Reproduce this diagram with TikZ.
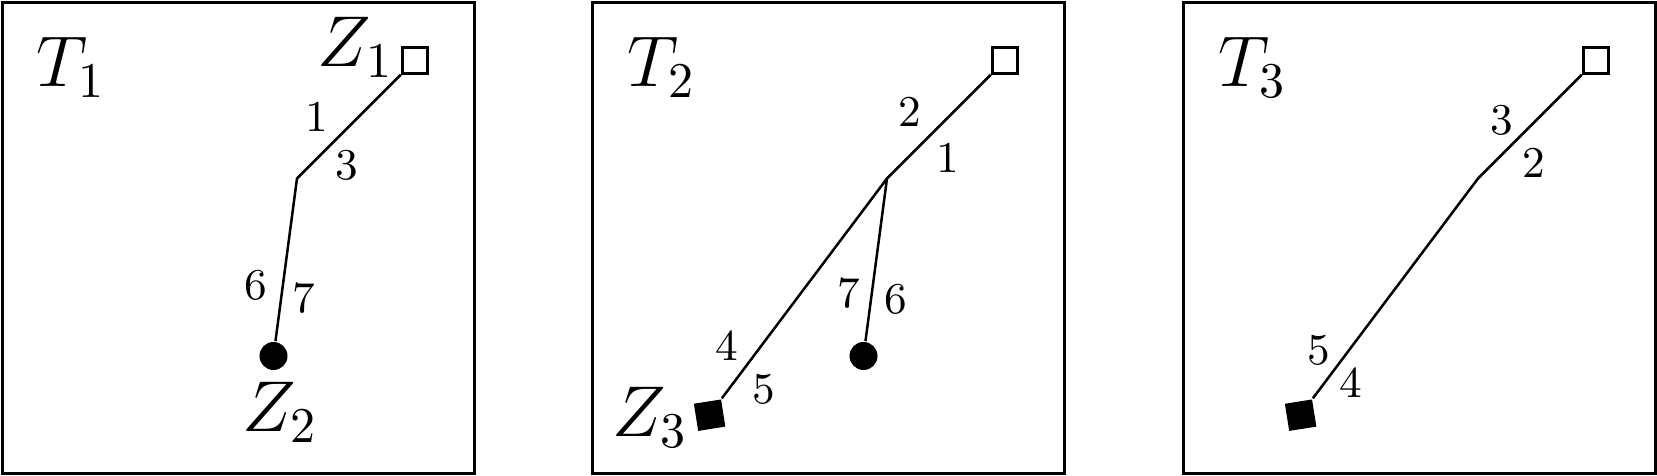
\documentclass[tikz,border=0pt]{standalone}
\begin{document}
\begin{tikzpicture}[x=0.2pt,y=-0.2pt,
  frame/.style={line width=0.6pt},
  edge/.style={line width=0.5pt},
  osq/.style={draw, line width=0.6pt, minimum size=5.1pt, inner sep=0pt, fill=white},
  dot/.style={circle, fill=black, minimum size=5.6pt, inner sep=0pt},
  fsq/.style={fill=black, minimum size=5.5pt, inner sep=0pt, rotate=9},
  big/.style={font=\fontsize{14.4}{16}\selectfont, inner sep=0pt, anchor=base west},
  num/.style={font=\fontsize{8.8}{10}\selectfont, inner sep=0pt}
]
\useasboundingbox (0,0) rectangle (1657,476);

% ---------- Panel 1 ----------
\begin{scope}
\draw[frame] (2.5,2.5) rectangle (474,473.5);
\node[big] (t1) at (36,87) {$T_1$};
\node[osq] (q1) at (415,60.5) {};
\coordinate (b1) at (297,178.5);
\node[dot] (c1) at (273.5,356) {};
\draw[edge] (q1.south west) -- (b1) -- (c1);
\node[big] (z1) at (317,67) {$Z_1$};
\node[big] (z2) at (241,432) {$Z_2$};
\node[num] (l1a) at (317,117) {1};
\node[num] (l1b) at (347,165) {3};
\node[num] (l1c) at (256,285) {6};
\node[num] (l1d) at (304,298) {7};
\end{scope}

% ---------- Panel 2 ----------
\begin{scope}[xshift=118pt]
\draw[frame] (2.5,2.5) rectangle (474,473.5);
\node[big] (t2) at (36,87) {$T_2$};
\node[osq] (q2) at (415,60.5) {};
\coordinate (b2) at (297,178.5);
\node[dot] (c2) at (273.5,356) {};
\node[fsq] (f2) at (119.6,415.2) {};
\draw[edge] (q2.south west) -- (b2) -- (c2);
\draw[edge] (b2) -- (f2.north east);
\node[big] (z3) at (21.6,437) {$Z_3$};
\node[num] (l2a) at (320,112) {2};
\node[num] (l2b) at (357.5,158) {1};
\node[num] (l2c) at (258.6,293) {7};
\node[num] (l2d) at (305.7,299) {6};
\node[num] (l2e) at (137,346) {4};
\node[num] (l2f) at (173.6,389) {5};
\end{scope}

% ---------- Panel 3 ----------
\begin{scope}[xshift=236.2pt]
\draw[frame] (2.5,2.5) rectangle (474,473.5);
\node[big] (t3) at (36,87) {$T_3$};
\node[osq] (q3) at (415,60.5) {};
\coordinate (b3) at (297,178.5);
\node[fsq] (f3) at (119.6,415.2) {};
\draw[edge] (q3.south west) -- (b3) -- (f3.north east);
\node[num] (l3a) at (321,120) {3};
\node[num] (l3b) at (353,163) {2};
\node[num] (l3c) at (137.6,350) {5};
\node[num] (l3d) at (169.7,383) {4};
\end{scope}
\end{tikzpicture}
\end{document}
